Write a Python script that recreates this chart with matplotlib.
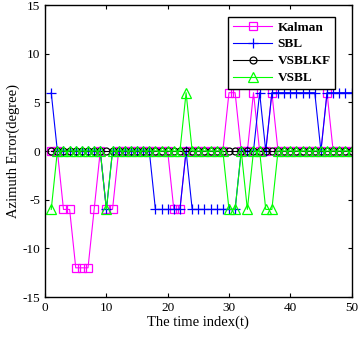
import numpy as np
import matplotlib
matplotlib.use("Agg")
import matplotlib.pyplot as plt

# time index and azimuth errors (degree)
t = list(range(1, 51))

kalman = [0, 0, -6, -6, -12, -12, -12, -6, 0, -6,
          -6, 0, 0, 0, 0, 0, 0, 0, 0, 0,
          -6, -6, 0, 0, 0, 0, 0, 0, 0, 6,
          6, 0, 0, 6, 0, 0, 6, 0, 0, 0,
          0, 0, 0, 0, 0, 6, 0, 0, 0, 0]

sbl = [6, 0, 0, 0, 0, 0, 0, 0, 0, -6,
       0, 0, 0, 0, 0, 0, 0, -6, -6, -6,
       -6, -6, 0, -6, -6, -6, -6, -6, -6, -6,
       -6, 0, 0, 0, 6, 0, 6, 6, 6, 6,
       6, 6, 6, 6, 0, 6, 6, 6, 6, 6]

vsblkf = [0] * 50

vsbl = [-6, 0, 0, 0, 0, 0, 0, 0, 0, -6,
        0, 0, 0, 0, 0, 0, 0, 0, 0, 0,
        0, 0, 6, 0, 0, 0, 0, 0, 0, -6,
        -6, 0, -6, 0, 0, -6, -6, 0, 0, 0,
        0, 0, 0, 0, 0, 0, 0, 0, 0, 0]

plt.rcParams['font.family'] = ['Liberation Serif', 'DejaVu Serif']
plt.rcParams['axes.unicode_minus'] = False

fig = plt.figure(figsize=(3.58, 3.41), dpi=100)
ax = fig.add_axes([0.126, 0.129, 0.856, 0.856])

ax.plot(t, kalman, '-s', color=(1, 0, 1), lw=0.8, ms=6, mfc='none', mew=0.9, label='Kalman')
ax.plot(t, sbl, '-+', color=(0, 0, 1), lw=0.8, ms=7.5, mew=0.9, label='SBL')
ax.plot(t, vsblkf, '-o', color='k', lw=0.8, ms=5, mfc='none', mew=0.9, label='VSBLKF')
ax.plot(t, vsbl, '-^', color=(0, 1, 0), lw=0.8, ms=7, mfc='none', mew=0.9, label='VSBL')

ax.set_xlim(0, 50)
ax.set_ylim(-15, 15)
ax.set_xticks(range(0, 51, 10))
ax.set_yticks(range(-15, 16, 5))
ax.tick_params(direction='in', top=True, right=True, labelsize=9.5, length=3, width=0.8)
for s in ax.spines.values():
    s.set_linewidth(1.0)

ax.set_xlabel('The time index(t)', fontsize=10.5, labelpad=1)
ax.set_ylabel('Azimuth Error(degree)', fontsize=10.5, labelpad=2)

leg = ax.legend(loc='upper right', bbox_to_anchor=(0.947, 0.96), borderaxespad=0,
                prop={'weight': 'bold', 'size': 9.5}, handlelength=3.0,
                fancybox=False, framealpha=1, edgecolor='k',
                borderpad=0.35, labelspacing=0.35, handletextpad=0.4)
leg.get_frame().set_linewidth(1.0)

fig.savefig('out.png', dpi=100)
